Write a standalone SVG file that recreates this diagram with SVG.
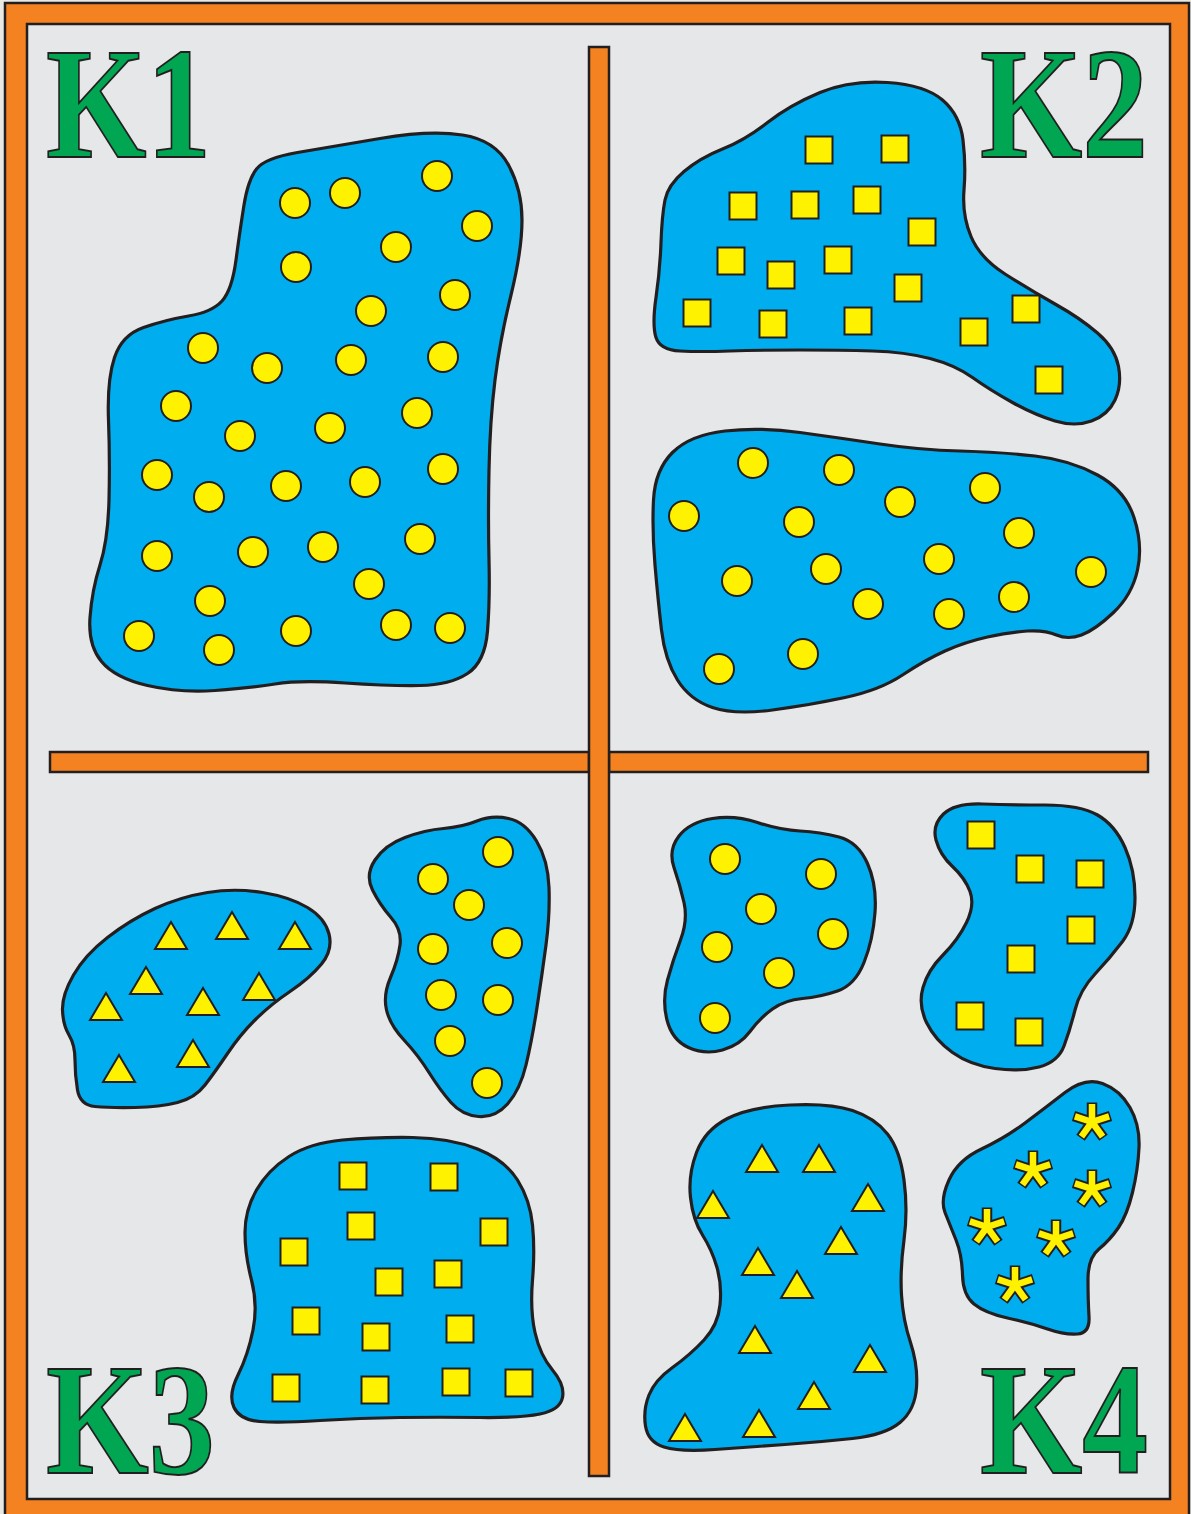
<svg xmlns="http://www.w3.org/2000/svg" xmlns:xlink="http://www.w3.org/1999/xlink" width="1191" height="1514" viewBox="0 0 1191 1514">
<style>
.blob{fill:#00aeef;stroke:#231f20;stroke-width:3.2;stroke-linejoin:round}
.c{fill:#fff200;stroke:#231f20;stroke-width:2}
.bar{fill:#f58220;stroke:#231f20;stroke-width:2.5}
.lbl{font-family:"Liberation Serif","Times New Roman",serif;font-weight:bold;font-size:158px;fill:#00a651;stroke:#231f20;stroke-width:2}
</style>
<defs>
<polygon id="tri" points="0,-15 16,12 -16,12" fill="#fff200" stroke="#231f20" stroke-width="2" stroke-linejoin="miter"/>
<rect id="sq" x="-13.5" y="-13.5" width="27" height="27" fill="#fff200" stroke="#231f20" stroke-width="2"/>
<g id="ast">
<g stroke="#231f20" stroke-width="10.5" stroke-linecap="butt">
<line x1="0" y1="0" x2="0" y2="-19.5"/>
<line x1="0" y1="0" x2="18.54" y2="-6.03"/>
<line x1="0" y1="0" x2="11.47" y2="15.78"/>
<line x1="0" y1="0" x2="-11.47" y2="15.78"/>
<line x1="0" y1="0" x2="-18.54" y2="-6.03"/>
</g>
<g stroke="#fff200" stroke-width="6.5" stroke-linecap="butt">
<line x1="0" y1="0" x2="0" y2="-18"/>
<line x1="0" y1="0" x2="17.12" y2="-5.56"/>
<line x1="0" y1="0" x2="10.58" y2="14.56"/>
<line x1="0" y1="0" x2="-10.58" y2="14.56"/>
<line x1="0" y1="0" x2="-17.12" y2="-5.56"/>
</g>
</g>
</defs>

<rect x="0" y="0" width="1191" height="1514" fill="#e8e9e2"/>
<rect x="5" y="3" width="1184" height="1516" fill="#f58220" stroke="#231f20" stroke-width="2.5"/>
<rect x="27" y="24" width="1143" height="1475" fill="#e6e7e8" stroke="#231f20" stroke-width="2.5"/>

<g id="dividers">
<rect class="bar" x="50" y="752" width="539" height="20"/>
<rect class="bar" x="609" y="752" width="539" height="20"/>
<rect class="bar" x="589" y="47" width="20" height="1429"/>
</g>

<g id="labels">
<text class="lbl" x="46" y="157" textLength="165" lengthAdjust="spacingAndGlyphs">K1</text>
<text class="lbl" x="980" y="157" textLength="168" lengthAdjust="spacingAndGlyphs">K2</text>
<text class="lbl" x="46" y="1473" textLength="169" lengthAdjust="spacingAndGlyphs">K3</text>
<text class="lbl" x="980" y="1473" textLength="168" lengthAdjust="spacingAndGlyphs">K4</text>
</g>

<g id="k1-circles">
<path class="blob" d="M256.5,169 Q265,158 297.5,152.5 Q330,147 380,138.5 Q430,130 462.5,135 Q495,140 508.5,165 Q522,190 522,220 Q522,250 511,295 Q500,340 495,380 Q490,420 489,470 Q488,520 489,560 Q490,600 487.5,631 Q485,662 467.5,673.5 Q450,685 420,685.5 Q390,686 345,683 Q300,680 275,684 Q250,688 215,690.5 Q180,693 147.5,685.5 Q115,678 101.5,661.5 Q88,645 90,617.5 Q92,590 100,565 Q108,540 109,500 Q110,460 108.5,420 Q107,380 114.5,357.5 Q122,335 143.5,327.5 Q165,320 188.5,316 Q212,312 222,301 Q232,290 236,260 Q240,230 244,205 Q248,180 256.5,169 Z"/>
<g class="c">
<circle cx="295" cy="203" r="15"/><circle cx="345" cy="193" r="15"/><circle cx="437" cy="176" r="15"/><circle cx="477" cy="226" r="15"/>
<circle cx="296" cy="267" r="15"/><circle cx="396" cy="247" r="15"/><circle cx="455" cy="295" r="15"/><circle cx="371" cy="311" r="15"/>
<circle cx="203" cy="348" r="15"/><circle cx="267" cy="368" r="15"/><circle cx="351" cy="360" r="15"/><circle cx="443" cy="357" r="15"/>
<circle cx="176" cy="406" r="15"/><circle cx="240" cy="436" r="15"/><circle cx="330" cy="428" r="15"/><circle cx="417" cy="413" r="15"/>
<circle cx="157" cy="475" r="15"/><circle cx="209" cy="497" r="15"/><circle cx="286" cy="486" r="15"/><circle cx="365" cy="482" r="15"/><circle cx="443" cy="469" r="15"/>
<circle cx="157" cy="556" r="15"/><circle cx="253" cy="552" r="15"/><circle cx="323" cy="547" r="15"/><circle cx="420" cy="539" r="15"/>
<circle cx="369" cy="584" r="15"/><circle cx="210" cy="601" r="15"/><circle cx="139" cy="636" r="15"/><circle cx="219" cy="650" r="15"/>
<circle cx="296" cy="631" r="15"/><circle cx="396" cy="625" r="15"/><circle cx="450" cy="628" r="15"/>
</g>
</g>

<g id="k2-squares">
<path class="blob" d="M665,200 Q668,185 684,171.5 Q700,158 722.5,149 Q745,140 767.5,122.5 Q790,105 820,92.5 Q850,80 887.5,82.5 Q925,85 942.5,100 Q960,115 963,140 Q966,165 964,190 Q962,215 971,236.5 Q980,258 1005,274 Q1030,290 1055,304 Q1080,318 1097.5,333 Q1115,348 1118.5,366.5 Q1122,385 1115,400 Q1108,415 1091.5,421 Q1075,427 1055,421 Q1035,415 1012.5,402.5 Q990,390 972.5,377.5 Q955,365 930,358.5 Q905,352 872.5,351 Q840,350 800,350 Q760,350 730,351 Q700,352 680,351 Q660,350 656,337.5 Q652,325 656,297.5 Q660,270 661,242.5 Q662,215 665,200 Z"/>
<use href="#sq" x="819" y="150"/><use href="#sq" x="895" y="149"/><use href="#sq" x="743" y="206"/><use href="#sq" x="805" y="205"/>
<use href="#sq" x="867" y="200"/><use href="#sq" x="922" y="232"/><use href="#sq" x="731" y="261"/><use href="#sq" x="781" y="275"/>
<use href="#sq" x="838" y="260"/><use href="#sq" x="908" y="288"/><use href="#sq" x="697" y="313"/><use href="#sq" x="773" y="324"/>
<use href="#sq" x="858" y="321"/><use href="#sq" x="974" y="332"/><use href="#sq" x="1026" y="309"/><use href="#sq" x="1049" y="380"/>
</g>

<g id="k2-circles">
<path class="blob" d="M653.5,500 Q655,470 672.5,452.5 Q690,435 725,431 Q760,427 800,432.5 Q840,438 880,444 Q920,450 960,451 Q1000,452 1035,456 Q1070,460 1097.5,475 Q1125,490 1134,517.5 Q1143,545 1137.5,570 Q1132,595 1113.5,612.5 Q1095,630 1081.5,635 Q1068,640 1056.5,635 Q1045,630 1027.5,631 Q1010,632 987.5,637 Q965,642 945,651 Q925,660 902.5,675 Q880,690 845,697.5 Q810,705 772.5,710 Q735,715 712.5,707.5 Q690,700 677.5,680 Q665,660 661.5,630 Q658,600 655,565 Q652,530 653.5,500 Z"/>
<g class="c">
<circle cx="753" cy="463" r="15"/><circle cx="839" cy="470" r="15"/><circle cx="684" cy="516" r="15"/><circle cx="799" cy="522" r="15"/>
<circle cx="900" cy="502" r="15"/><circle cx="985" cy="488" r="15"/><circle cx="1019" cy="533" r="15"/><circle cx="737" cy="581" r="15"/>
<circle cx="826" cy="569" r="15"/><circle cx="939" cy="559" r="15"/><circle cx="1091" cy="572" r="15"/><circle cx="868" cy="604" r="15"/>
<circle cx="949" cy="614" r="15"/><circle cx="1014" cy="597" r="15"/><circle cx="719" cy="669" r="15"/><circle cx="803" cy="654" r="15"/>
</g>
</g>

<g id="k3-triangles">
<path class="blob" d="M62.5,1010 Q62,995 73.5,975 Q85,955 107.5,937.5 Q130,920 155,908.5 Q180,897 207.5,892.5 Q235,888 262.5,892.5 Q290,897 307.5,907.5 Q325,918 329,934 Q333,950 321.5,964 Q310,978 290,991.5 Q270,1005 255,1020 Q240,1035 227.5,1053.5 Q215,1072 205,1085 Q195,1098 177.5,1102.5 Q160,1107 135,1107.5 Q110,1108 95,1106.5 Q80,1105 77.5,1090 Q75,1075 75,1060 Q75,1045 69,1035 Q63,1025 62.5,1010 Z"/>
<use href="#tri" x="171" y="937"/><use href="#tri" x="232" y="927"/><use href="#tri" x="295" y="937"/>
<use href="#tri" x="146" y="982"/><use href="#tri" x="203" y="1003"/><use href="#tri" x="259" y="988"/>
<use href="#tri" x="106" y="1008"/><use href="#tri" x="193" y="1055"/><use href="#tri" x="119" y="1070"/>
</g>

<g id="k3-circles">
<path class="blob" d="M372.5,890 Q365,875 375,860 Q385,845 405,837.5 Q425,830 443.5,828.5 Q462,827 477,821 Q492,815 508.5,818.5 Q525,822 536.5,841 Q548,860 549,887.5 Q550,915 546,945 Q542,975 537,1007.5 Q532,1040 526,1065 Q520,1090 507.5,1104 Q495,1118 478.5,1116.5 Q462,1115 451,1102.5 Q440,1090 429,1072.5 Q418,1055 404,1040 Q390,1025 386.5,1010 Q383,995 390.5,977.5 Q398,960 400,945 Q402,930 391,917.5 Q380,905 372.5,890 Z"/>
<g class="c">
<circle cx="433" cy="879" r="15"/><circle cx="498" cy="852" r="15"/><circle cx="469" cy="905" r="15"/><circle cx="433" cy="949" r="15"/>
<circle cx="507" cy="943" r="15"/><circle cx="441" cy="995" r="15"/><circle cx="498" cy="1000" r="15"/><circle cx="450" cy="1041" r="15"/>
<circle cx="487" cy="1083" r="15"/>
</g>
</g>

<g id="k3-squares">
<path class="blob" d="M245,1232.5 Q245,1210 256.5,1190 Q268,1170 289,1156.5 Q310,1143 342.5,1140 Q375,1137 412.5,1137.5 Q450,1138 477.5,1149 Q505,1160 517.5,1180 Q530,1200 532.5,1225 Q535,1250 532.5,1280 Q530,1310 535,1332.5 Q540,1355 552.5,1370 Q565,1385 562.5,1397.5 Q560,1410 540,1414 Q520,1418 480,1417.5 Q440,1417 400,1417.5 Q360,1418 320,1420.5 Q280,1423 260,1421.5 Q240,1420 234,1407.5 Q228,1395 238,1375 Q248,1355 253,1330 Q258,1305 251.5,1280 Q245,1255 245,1232.5 Z"/>
<use href="#sq" x="353" y="1176"/><use href="#sq" x="444" y="1177"/><use href="#sq" x="361" y="1226"/><use href="#sq" x="494" y="1232"/>
<use href="#sq" x="294" y="1252"/><use href="#sq" x="389" y="1282"/><use href="#sq" x="448" y="1274"/><use href="#sq" x="306" y="1321"/>
<use href="#sq" x="376" y="1337"/><use href="#sq" x="460" y="1329"/><use href="#sq" x="286" y="1388"/><use href="#sq" x="375" y="1390"/>
<use href="#sq" x="456" y="1382"/><use href="#sq" x="519" y="1383"/>
</g>

<g id="k4-circles">
<path class="blob" d="M674,867.5 Q668,850 679,836 Q690,822 712.5,818.5 Q735,815 757.5,822.5 Q780,830 800,831 Q820,832 839,837 Q858,842 867.5,863.5 Q877,885 875,912.5 Q873,940 864,962.5 Q855,985 837.5,991 Q820,997 802.5,998.5 Q785,1000 772.5,1009 Q760,1018 750,1031.5 Q740,1045 722.5,1050 Q705,1055 688.5,1047.5 Q672,1040 667,1020 Q662,1000 667.5,980 Q673,960 680.5,940 Q688,920 684,902.5 Q680,885 674,867.5 Z"/>
<g class="c">
<circle cx="725" cy="859" r="15"/><circle cx="821" cy="874" r="15"/><circle cx="761" cy="909" r="15"/><circle cx="717" cy="947" r="15"/>
<circle cx="833" cy="934" r="15"/><circle cx="779" cy="973" r="15"/><circle cx="715" cy="1018" r="15"/>
</g>
</g>

<g id="k4-squares">
<path class="blob" d="M936,840 Q932,825 943.5,814 Q955,803 982.5,804 Q1010,805 1045,805 Q1080,805 1097.5,815 Q1115,825 1125,847.5 Q1135,870 1135,897.5 Q1135,925 1122.5,941.5 Q1110,958 1095,974 Q1080,990 1075,1010 Q1070,1030 1064,1046 Q1058,1062 1039,1067 Q1020,1072 995,1068.5 Q970,1065 952.5,1052.5 Q935,1040 926.5,1022.5 Q918,1005 923,987.5 Q928,970 943,955 Q958,940 966.5,922.5 Q975,905 970,891.5 Q965,878 952.5,866.5 Q940,855 936,840 Z"/>
<use href="#sq" x="981" y="835"/><use href="#sq" x="1030" y="869"/><use href="#sq" x="1090" y="874"/><use href="#sq" x="1081" y="930"/>
<use href="#sq" x="1021" y="959"/><use href="#sq" x="970" y="1016"/><use href="#sq" x="1029" y="1032"/>
</g>

<g id="k4-triangles">
<path class="blob" d="M690.5,1197.5 Q688,1175 696.5,1152.5 Q705,1130 727.5,1118.5 Q750,1107 790,1105 Q830,1103 852.5,1110.5 Q875,1118 887.5,1134 Q900,1150 904,1180 Q908,1210 904,1240 Q900,1270 901.5,1295 Q903,1320 910.5,1342.5 Q918,1365 916.5,1387.5 Q915,1410 900,1422.5 Q885,1435 852.5,1438.5 Q820,1442 785,1444.5 Q750,1447 715,1449.5 Q680,1452 664,1447 Q648,1442 645.5,1426 Q643,1410 649,1395 Q655,1380 672.5,1367.5 Q690,1355 704,1340 Q718,1325 720,1305 Q722,1285 717,1267.5 Q712,1250 702.5,1235 Q693,1220 690.5,1197.5 Z"/>
<use href="#tri" x="762" y="1160"/><use href="#tri" x="819" y="1160"/><use href="#tri" x="868" y="1199"/><use href="#tri" x="713" y="1206"/>
<use href="#tri" x="841" y="1242"/><use href="#tri" x="758" y="1263"/><use href="#tri" x="797" y="1286"/><use href="#tri" x="755" y="1341"/>
<use href="#tri" x="870" y="1360"/><use href="#tri" x="814" y="1397"/><use href="#tri" x="685" y="1429"/><use href="#tri" x="759" y="1425"/>
</g>

<g id="k4-asterisks">
<path class="blob" d="M945,1212.5 Q940,1200 949,1180 Q958,1160 981.5,1149 Q1005,1138 1025,1123 Q1045,1108 1065,1092.5 Q1085,1077 1102.5,1083.5 Q1120,1090 1130,1107.5 Q1140,1125 1139,1147.5 Q1138,1170 1132.5,1192.5 Q1127,1215 1118.5,1227.5 Q1110,1240 1099,1249 Q1088,1258 1088,1279 Q1088,1300 1089,1316.5 Q1090,1333 1077.5,1334 Q1065,1335 1047.5,1329 Q1030,1323 1007.5,1318 Q985,1313 974,1304 Q963,1295 962.5,1275 Q962,1255 956,1240 Q950,1225 945,1212.5 Z"/>
<use href="#ast" x="1092" y="1122"/><use href="#ast" x="1033" y="1170"/><use href="#ast" x="1092" y="1189"/>
<use href="#ast" x="987" y="1227"/><use href="#ast" x="1056" y="1239"/><use href="#ast" x="1015" y="1285"/>
</g>
</svg>
